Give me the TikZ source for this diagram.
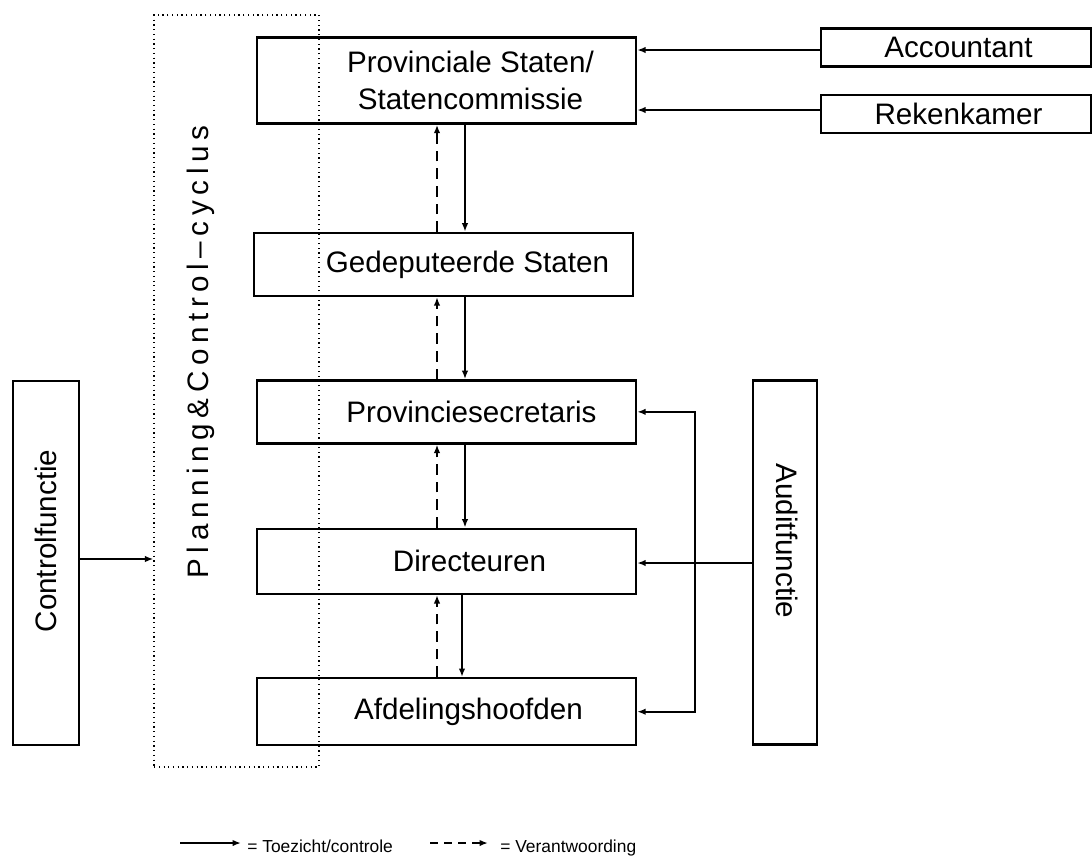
\documentclass[tikz,border=0pt]{standalone}
\usepackage{fontspec}
\setmainfont{Liberation Sans}
\usetikzlibrary{arrows.meta,positioning}

\newcommand{\lsp}{\hspace{.19em}}

\begin{document}
\begin{tikzpicture}[x=0.02cm,y=-0.02cm,
	font=\fontsize{16.85}{21}\selectfont,
	box/.style={draw,line width=1.4pt,inner sep=1pt,minimum width=7.58cm,minimum height=1.26cm},
	sidebox/.style={draw,line width=1.4pt,inner sep=1pt,minimum width=5.4cm,minimum height=0.76cm},
	tallbox/.style={draw,line width=1.4pt,inner sep=1pt,minimum width=1.32cm,minimum height=7.28cm},
	pijl/.style={line width=1.1pt,-{Latex[length=0.17cm,width=0.13cm]}},
	terug/.style={pijl,dashed,dash pattern=on 6pt off 4pt}]
	\useasboundingbox (0,0) rectangle (1092,866);
	
	%% hoofdkolom
	\node[box,minimum height=1.72cm,label={[xshift=0.48cm,align=center]center:Provinciale Staten/\\Statencommissie}] (ps) at (446.5,80.5) {};
	\node[box,below=2.14cm of ps,xshift=-0.06cm,label={[xshift=0.48cm]center:Gedeputeerde Staten}] (gs) {};
	\node[box,below=1.64cm of gs,xshift=0.06cm,label={[xshift=0.5cm]center:Provinciesecretaris}] (sec) {};
	\node[box,below=1.66cm of sec,minimum height=1.3cm,label={[xshift=0.46cm]center:Directeuren}] (dir) {};
	\node[box,below=1.64cm of dir,minimum height=1.34cm,label={[xshift=0.44cm]center:Afdelingshoofden}] (afd) {};
	
	%% rechts boven
	\node[sidebox] (acc) at (956,47.5) {\hspace{0.1cm}Accountant};
	\node[sidebox,below=0.52cm of acc] (rek) {\hspace{0.1cm}Rekenkamer};
	
	%% zijkanten
	\node[tallbox] (ctrl) at (46,563) {};
	\node[rotate=90] (ctrltxt) at (46,541) {Controlfunctie};
	\node[tallbox,minimum width=1.28cm] (aud) at (785,562.5) {};
	\node[rotate=-90] (audtxt) at (787,541) {Auditfunctie};
	
	% P&C-cyclus
	\node[draw,dotted,line width=0.7pt,minimum width=3.3cm,minimum height=15.04cm] (pc) at (236.5,391) {};
	\node[rotate=90] (pctxt) at (201,352) {P\lsp l\lsp a\lsp n\lsp n\lsp i\lsp n\lsp g\lsp \&\lsp C\lsp o\lsp n\lsp t\lsp r\lsp o\lsp l\lsp \textendash\lsp c\lsp y\lsp c\lsp l\lsp u\lsp s};
	
	% kolommen voor de pijlen
	\coordinate (op) at (437,0);
	\coordinate (neer) at (465,0);
	\coordinate (neer2) at (462,0);
	\coordinate (knik) at (695,563);
	\coordinate (cf) at (0,559);
	\coordinate (ra) at (0,50);
	\coordinate (rb) at (0,110);
	
	%% pijlen in de kolom
	\draw[terug] (gs.north -| op) -- (ps.south -| op);
	\draw[pijl] (ps.south -| neer) -- (gs.north -| neer);
	\draw[terug] (sec.north -| op) -- (gs.south -| op);
	\draw[pijl] (gs.south -| neer) -- (sec.north -| neer);
	\draw[terug] (dir.north -| op) -- (sec.south -| op);
	\draw[pijl] (sec.south -| neer) -- (dir.north -| neer);
	\draw[terug] (afd.north -| op) -- (dir.south -| op);
	\draw[pijl] (dir.south -| neer2) -- (afd.north -| neer2);
	
	%% pijlen van buiten
	\draw[pijl] (acc.west |- ra) -- (ps.east |- ra);
	\draw[pijl] (rek.west |- rb) -- (ps.east |- rb);
	\draw[pijl] (aud.west |- knik) -- (dir.east |- knik);
	\draw[pijl] (knik) |- (sec.east);
	\draw[pijl] (knik) |- (afd.east);
	\draw[pijl] (ctrl.east |- cf) -- (pc.west |- cf);
	
	%% legenda
	\coordinate (la) at (180,843);
	\coordinate (lb) at (241,843);
	\coordinate (lc) at (430,843);
	\coordinate (ld) at (488,843);
	\draw[pijl] (la) -- (lb);
	\draw[terug,dash pattern=on 4.5pt off 3.5pt] (lc) -- (ld);
	\node[anchor=base west,inner sep=0pt,font=\fontsize{9.9}{12}\selectfont] (l1) at (247,852) {= Toezicht/controle};
	\node[anchor=base west,inner sep=0pt,font=\fontsize{9.9}{12}\selectfont] (l2) at (500,852) {= Verantwoording};
\end{tikzpicture}
\end{document}
